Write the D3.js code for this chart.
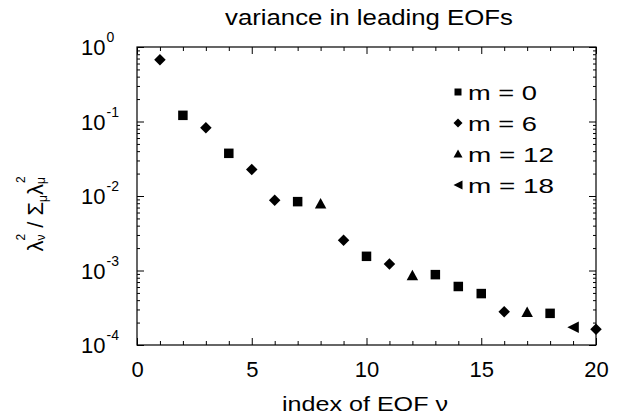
<!DOCTYPE html>
<html>
<head>
<meta charset="utf-8">
<script src="https://cdn.jsdelivr.net/npm/d3@7"></script>
<style>
  body { margin: 0; background: #fff; }
  svg { display: block; font-family: "Liberation Sans", Arial, Helvetica, sans-serif; }
</style>
</head>
<body>
<div id="chart"></div>
<script>
// EOF index (x) and fraction of variance (y)
const eofIndex = [1, 2, 3, 4, 5, 6, 7, 8, 9, 10, 11, 12, 13, 14, 15, 16, 17, 18, 19, 20]
const varianceFrac = [0.675, 0.121, 0.0826, 0.0374, 0.0226, 0.00875, 0.0084, 0.0079, 0.00254, 0.00155,
  0.00122, 0.00086, 0.00088, 0.00061, 0.00049, 0.00028, 0.000275, 0.000266, 0.000173, 0.000163]
// zonal wavenumber m of each EOF
const modeM = [6, 0, 6, 0, 6, 6, 0, 12, 6, 0, 6, 12, 0, 0, 0, 6, 12, 0, 18, 6]
// legend entries
const legendM = [0, 6, 12, 18]
const xTicks = [0, 5, 10, 15, 20]
const yExponents = [0, -1, -2, -3, -4]

const width = 619
const height = 417
const margin = {top: 47, right: 23, bottom: 72, left: 137}

const svg = d3.select('#chart').append('svg')
  .attr('width', width)
  .attr('height', height)
  .style('background', '#fff')

const xScale = d3.scaleLinear()
  .domain([0, 20])
  .range([margin.left, width - margin.right])
const yScale = d3.scaleLog()
  .domain([1e-4, 1])
  .range([height - margin.bottom, margin.top])

// marker shape per m (path around 0,0)
const shapePath = (m, s) => {
  const h = s / 2
  if (m === 0) return `M${-h},${-h}H${h}V${h}H${-h}Z`
  if (m === 6) return `M0,${-h - 1}L${h + 1},0L0,${h + 1}L${-h - 1},0Z`
  if (m === 12) return `M0,${-h - 1}L${h + 1},${h}L${-h - 1},${h}Z`
  return `M${-h - 1},0L${h + 1},${-h - 1}L${h + 1},${h + 1}Z`
}

// ticks (all inward)
const x0 = margin.left, x1 = width - margin.right
const y0 = height - margin.bottom, y1 = margin.top
const xMinor = d3.range(0, 21).filter(d => d % 5 !== 0)
const yMajor = yExponents.map(e => Math.pow(10, e))
const yMinor = []
for (let e = -4; e < 0; e++) for (let k = 2; k <= 9; k++) yMinor.push(k * Math.pow(10, e))

const addAxis = (axis, transform) => {
  const g = svg.append('g').attr('transform', transform).call(axis)
  g.select('.domain').remove()
  g.selectAll('line').attr('stroke', '#000')
  return g
}
const noLabel = () => ''

addAxis(d3.axisBottom(xScale).tickValues(xTicks).tickSize(-7).tickPadding(16).tickFormat(d3.format('d')), `translate(0,${y0})`)
  .selectAll('text').attr('font-size', 22).attr('fill', '#000').attr('font-family', null)
addAxis(d3.axisBottom(xScale).tickValues(xMinor).tickSize(-4).tickFormat(noLabel), `translate(0,${y0})`)
addAxis(d3.axisTop(xScale).tickValues(xTicks).tickSize(-7).tickFormat(noLabel), `translate(0,${y1})`)
addAxis(d3.axisTop(xScale).tickValues(xMinor).tickSize(-4).tickFormat(noLabel), `translate(0,${y1})`)
addAxis(d3.axisLeft(yScale).tickValues(yMajor).tickSize(-7).tickFormat(noLabel), `translate(${x0},0)`)
addAxis(d3.axisLeft(yScale).tickValues(yMinor).tickSize(-3).tickFormat(noLabel), `translate(${x0},0)`)
addAxis(d3.axisRight(yScale).tickValues(yMajor).tickSize(-7).tickFormat(noLabel), `translate(${x1},0)`)
addAxis(d3.axisRight(yScale).tickValues(yMinor).tickSize(-3).tickFormat(noLabel), `translate(${x1},0)`)

// frame
svg.append('rect')
  .attr('x', x0).attr('y', y1)
  .attr('width', x1 - x0).attr('height', y0 - y1)
  .attr('fill', 'none').attr('stroke', '#000').attr('stroke-width', 1.2)

// y tick labels as 10^n
const yLab = svg.append('g').selectAll('text').data(yExponents).join('text')
  .attr('x', x0 - 56)
  .attr('y', d => yScale(Math.pow(10, d)) + 8)
  .attr('font-size', 22)
yLab.append('tspan').text('10')
yLab.append('tspan').attr('dy', -13).attr('dx', 1).attr('font-size', 14).text(d => d === 0 ? '0' : '-' + (-d))

// data points
svg.append('g').selectAll('path').data(eofIndex).join('path')
  .attr('transform', (d, i) => `translate(${xScale(d)},${yScale(varianceFrac[i])})`)
  .attr('d', (d, i) => shapePath(modeM[i], 9.5))
  .attr('fill', '#000')

// legend
const leg = svg.append('g').selectAll('g').data(legendM).join('g')
  .attr('transform', (d, i) => `translate(458,${92 + i * 31})`)
leg.append('path').attr('d', d => shapePath(d, 7)).attr('fill', '#000')
leg.append('text')
  .attr('x', 10).attr('y', 7.5)
  .attr('font-size', 21)
  .attr('textLength', d => d < 10 ? 69 : 86)
  .attr('lengthAdjust', 'spacingAndGlyphs')
  .text(d => `m = ${d}`)

// title
svg.append('text')
  .attr('x', 369).attr('y', 25)
  .attr('text-anchor', 'middle')
  .attr('font-size', 22)
  .attr('textLength', 288)
  .attr('lengthAdjust', 'spacingAndGlyphs')
  .text('variance in leading EOFs')

// x axis title
svg.append('text')
  .attr('x', 365).attr('y', 411)
  .attr('text-anchor', 'middle')
  .attr('font-size', 21)
  .attr('textLength', 166)
  .attr('lengthAdjust', 'spacingAndGlyphs')
  .text('index of EOF ν')

// y axis title: λν² / Σμ λμ²
const yt = svg.append('text')
  .attr('transform', 'translate(43,214) rotate(-90)')
  .attr('text-anchor', 'middle')
  .attr('font-size', 22)
yt.append('tspan').text('λ')
yt.append('tspan').attr('font-size', 12).attr('dy', 2).text('ν')
yt.append('tspan').attr('font-size', 12).attr('dx', -6).attr('dy', -20).text('2')
yt.append('tspan').attr('dy', 18).text(' / Σ')
yt.append('tspan').attr('font-size', 12).attr('dy', 4).text('μ')
yt.append('tspan').attr('dy', -4).text('λ')
yt.append('tspan').attr('font-size', 12).attr('dy', 2).text('μ')
yt.append('tspan').attr('font-size', 12).attr('dx', -6).attr('dy', -20).text('2')
</script>
</body>
</html>
